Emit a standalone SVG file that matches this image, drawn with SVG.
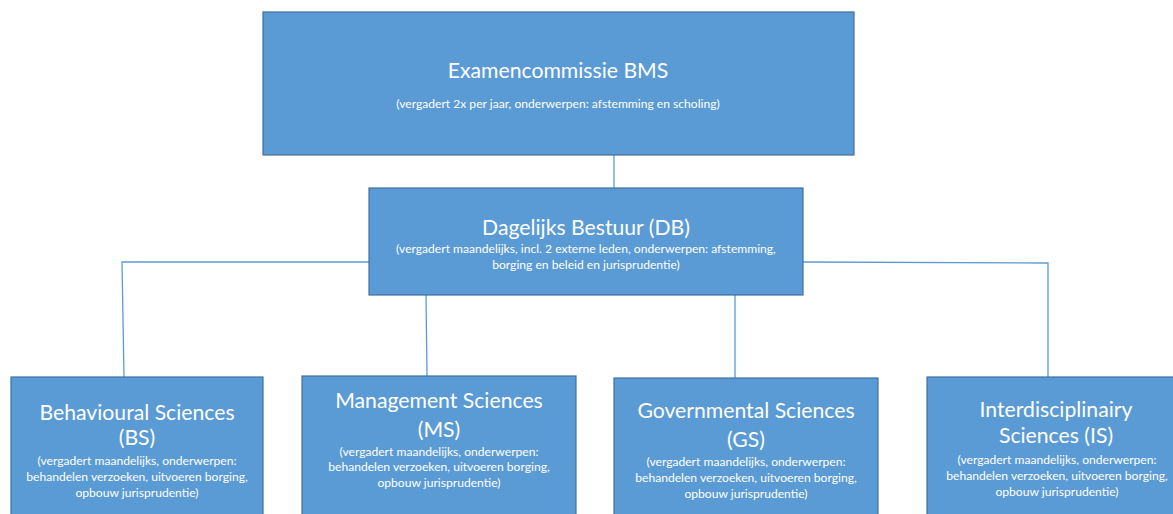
<svg xmlns="http://www.w3.org/2000/svg" width="1173" height="514" viewBox="0 0 1173 514">
<style>
.box{fill:#5B9BD5;stroke:#41719C;stroke-width:1.2}
.conn{stroke:#5B9BD5;stroke-width:1.3;fill:none}
text{font-family:Lato,"Open Sans","Liberation Sans",sans-serif;fill:#FFFFFF;text-anchor:middle}
.t{font-size:21.2px}
.s{font-size:12.1px}
</style>
<rect width="1173" height="514" fill="#FFFFFF"/>
<g id="connectors">
<line class="conn" x1="614" y1="155" x2="614" y2="188"/>
<polyline class="conn" points="369,262 122,262 124,377"/>
<polyline class="conn" points="803,262 1048,263 1048,377"/>
<line class="conn" x1="426" y1="295" x2="427" y2="376"/>
<line class="conn" x1="735" y1="295" x2="735" y2="378"/>
</g>
<g id="examencommissie">
<rect class="box" x="263" y="12" width="591" height="143"/>
<text class="t" x="558" y="78">Examencommissie BMS</text>
<text class="s" x="558" y="108">(vergadert 2x per jaar, onderwerpen: afstemming en scholing)</text>
</g>
<g id="db">
<rect class="box" x="369" y="188" width="434" height="107"/>
<text class="t" x="586" y="235">Dagelijks Bestuur (DB)</text>
<text class="s" x="586" y="253">(vergadert maandelijks, incl. 2 externe leden, onderwerpen: afstemming,</text>
<text class="s" x="586" y="269">borging en beleid en jurisprudentie)</text>
</g>
<g id="bs">
<rect class="box" x="11" y="377" width="252" height="145"/>
<text class="t" x="137" y="420">Behavioural Sciences</text>
<text class="t" x="137" y="445">(BS)</text>
<text class="s" x="137" y="465">(vergadert maandelijks, onderwerpen:</text>
<text class="s" x="137" y="481">behandelen verzoeken, uitvoeren borging,</text>
<text class="s" x="137" y="497">opbouw jurisprudentie)</text>
</g>
<g id="ms">
<rect class="box" x="302" y="376" width="274" height="146"/>
<text class="t" x="439" y="408">Management Sciences</text>
<text class="t" x="439" y="437">(MS)</text>
<text class="s" x="439" y="456">(vergadert maandelijks, onderwerpen:</text>
<text class="s" x="439" y="471">behandelen verzoeken, uitvoeren borging,</text>
<text class="s" x="439" y="487">opbouw jurisprudentie)</text>
</g>
<g id="gs">
<rect class="box" x="614" y="378" width="264" height="144"/>
<text class="t" x="746" y="418">Governmental Sciences</text>
<text class="t" x="746" y="447">(GS)</text>
<text class="s" x="746" y="466">(vergadert maandelijks, onderwerpen:</text>
<text class="s" x="746" y="482">behandelen verzoeken, uitvoeren borging,</text>
<text class="s" x="746" y="498">opbouw jurisprudentie)</text>
</g>
<g id="is">
<rect class="box" x="927" y="377" width="262" height="145"/>
<text class="t" x="1056" y="417">Interdisciplinairy</text>
<text class="t" x="1056" y="443">Sciences (IS)</text>
<text class="s" x="1057" y="464">(vergadert maandelijks, onderwerpen:</text>
<text class="s" x="1057" y="480">behandelen verzoeken, uitvoeren borging,</text>
<text class="s" x="1057" y="496">opbouw jurisprudentie)</text>
</g>
</svg>
